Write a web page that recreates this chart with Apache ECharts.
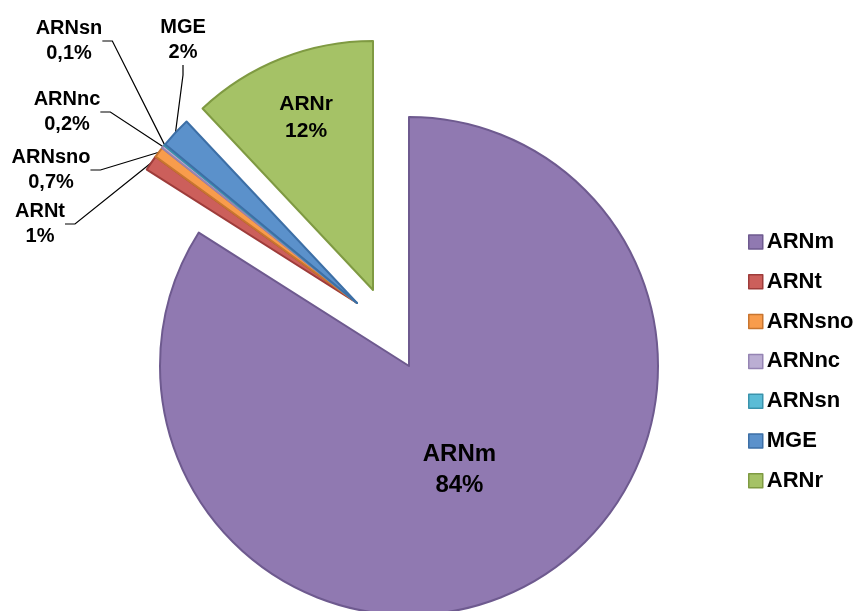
<!DOCTYPE html>
<html>
<head>
<meta charset="utf-8">
<script src="https://cdn.jsdelivr.net/npm/echarts@6/dist/echarts.min.js"></script>
<style>html,body{margin:0;padding:0;background:#fff}#c{width:865px;height:611px}</style>
</head>
<body>
<div id="c"></div>
<script>
// Data
var categories = ['ARNm', 'ARNt', 'ARNsno', 'ARNnc', 'ARNsn', 'MGE', 'ARNr'];
var shares = [84, 1, 0.7, 0.2, 0.1, 2, 12];
var fills = ['#9079B1', '#CC5F5B', '#F89C4C', '#BBAED3', '#5BBCD6', '#5B91CB', '#A5C266'];
var borders = ['#6E5A8F', '#9E3C3A', '#C8752F', '#9584B3', '#3A93AC', '#3D6FA6', '#7F9A42'];
// which piece (group) of the exploded pie each category belongs to
var groupOf = [0, 1, 1, 1, 1, 1, 2];

// layout (styling / positioning only)
var groupCenters = [[409, 366], [357, 303], [373, 290]];
var R = 249;
var outsideLabelPos = { 1: [40, 224], 2: [51, 170], 3: [67, 112], 4: [69, 41], 5: [183, 40] };

function fmtPct(v) { return String(v).replace('.', ',') + '%'; }

function makeSeries(g) {
  return {
    type: 'pie',
    center: groupCenters[g],
    radius: [0, R],
    startAngle: 90,
    clockwise: true,
    avoidLabelOverlap: false,
    silent: true,
    animation: false,
    z: 2 + g,
    data: categories.map(function (name, i) {
      var own = groupOf[i] === g;
      var inside = own && (i === 0 || i === 6);
      return {
        name: name,
        value: shares[i],
        itemStyle: own ? { color: fills[i], borderColor: borders[i], borderWidth: 2 }
                       : { color: 'rgba(0,0,0,0)', borderWidth: 0 },
        label: own ? {
          show: true,
          position: inside ? 'inside' : 'outside',
          formatter: function (p) { return p.name + '\n' + fmtPct(p.value); },
          fontFamily: 'Liberation Sans, Arial, sans-serif',
          fontWeight: 'bold',
          fontSize: i === 0 ? 24 : (i === 6 ? 21 : 20),
          lineHeight: i === 0 ? 31 : (i === 6 ? 27 : 25),
          color: '#000',
          align: 'center'
        } : { show: false },
        labelLine: own && !inside ? {
          show: true, length: 10, length2: 10,
          lineStyle: { color: '#000', width: 1.2 }
        } : { show: false }
      };
    }),
    labelLayout: function (p) {
      var i = p.dataIndex;
      if (groupOf[i] !== g) return {};
      if (i === 0) return { dx: -11, dy: -8 };
      if (i === 6) return { dx: -20, dy: -54 };
      if (outsideLabelPos[i]) {
        var pos = outsideLabelPos[i];
        return { x: pos[0], y: pos[1], align: 'center', verticalAlign: 'middle' };
      }
      return {};
    }
  };
}

var chart = echarts.init(document.getElementById('c'), null, { renderer: 'canvas' });
chart.setOption({
  backgroundColor: '#fff',
  animation: false,
  legend: {
    orient: 'vertical',
    left: 743,
    top: 225,
    icon: 'rect',
    itemWidth: 14,
    itemHeight: 14,
    itemGap: 15.8,
    selectedMode: false,
    textStyle: { fontFamily: 'Liberation Sans, Arial, sans-serif', fontWeight: 'bold', fontSize: 22, lineHeight: 24, color: '#000', padding: [0, 0, 0, -1] },
    data: categories.map(function (name, i) {
      return { name: name, itemStyle: { color: fills[i], borderColor: borders[i], borderWidth: 1.5, opacity: 1 } };
    })
  },
  series: [makeSeries(0), makeSeries(1), makeSeries(2)]
});
</script>
</body>
</html>
